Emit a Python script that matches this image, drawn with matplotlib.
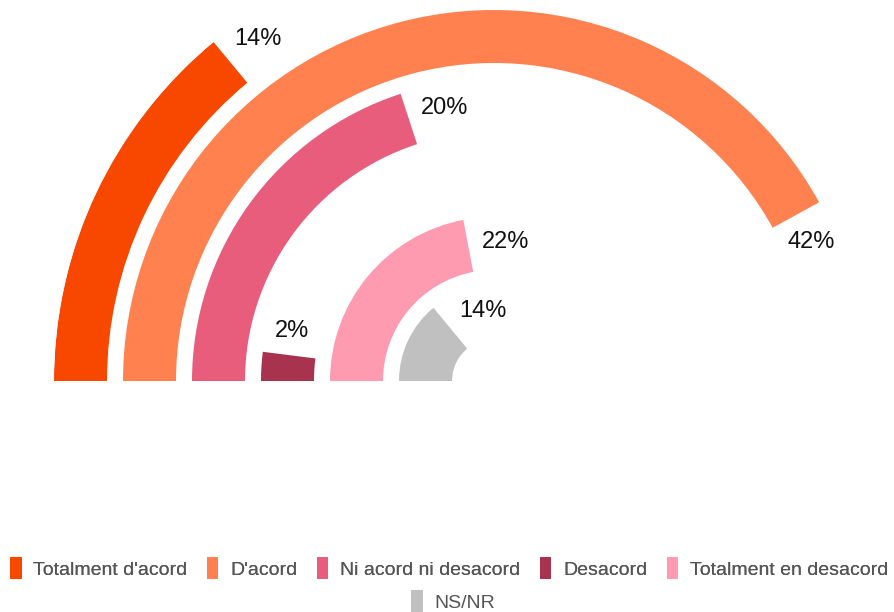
import numpy as np
import matplotlib
matplotlib.use('Agg')
import matplotlib.pyplot as plt
from matplotlib.patches import Patch

categories = ['Totalment d\'acord', 'D\'acord', 'Ni acord ni desacord',
              'Desacord', 'Totalment en desacord', 'NS/NR']
values = [14, 42, 20, 2, 22, 14]
labels = ['14%', '42%', '20%', '2%', '22%', '14%']
colors = ['#F84800', '#FF8150', '#E85C7C', '#A8334F', '#FF9BB1', '#C0C0C0']

plt.rcParams['font.family'] = ['Liberation Sans', 'DejaVu Sans']

fig = plt.figure(figsize=(8.95, 6.12), dpi=100)

# polar axes sized in pixels: centre (494, 381), outer radius 440
W, H = 895, 612
cx, cy, rmax = 494, 381, 440
ax = fig.add_axes([(cx - rmax) / W, (H - cy - rmax) / H, 2 * rmax / W, 2 * rmax / H],
                  projection='polar')
ax.set_theta_zero_location('W')
ax.set_theta_direction(-1)
ax.set_ylim(0, rmax)
ax.axis('off')

step = 69
ring = 53
for i, (v, c, lab) in enumerate(zip(values, colors, labels)):
    outer = rmax - step * i
    inner = outer - ring
    theta = np.deg2rad(3.6 * v)
    ax.bar(0, ring, width=theta, bottom=inner, align='edge', color=c,
           edgecolor='none', linewidth=0)
    rmid = inner + ring / 2
    # push the label past the bar end, by the text's half extent along the arc
    ext = 12 + abs(np.sin(theta)) * 24 + abs(np.cos(theta)) * 9
    ax.text(theta + ext / rmid, rmid + 2, lab, ha='center', va='center',
            fontsize=17, color='#111111')

handles = [Patch(facecolor=c, edgecolor='none') for c in colors]
leg1 = fig.legend(handles[:5], categories[:5], loc='center',
                  bbox_to_anchor=(449 / W, 1 - 568 / H), ncol=5, frameon=False,
                  handlelength=0.6, handleheight=1.3,
                  handletextpad=0.6, columnspacing=1.0, labelcolor='#555555',
                  prop={'family': ['Liberation Sans'], 'size': 14})
fig.add_artist(leg1)
fig.legend(handles[5:], categories[5:], loc='center',
           bbox_to_anchor=(453 / W, 1 - 601 / H), ncol=1, frameon=False,
           handlelength=0.6, handleheight=1.3,
           handletextpad=0.6, labelcolor='#555555',
           prop={'family': ['Liberation Sans'], 'size': 14})

fig.savefig('out.png', dpi=100)
